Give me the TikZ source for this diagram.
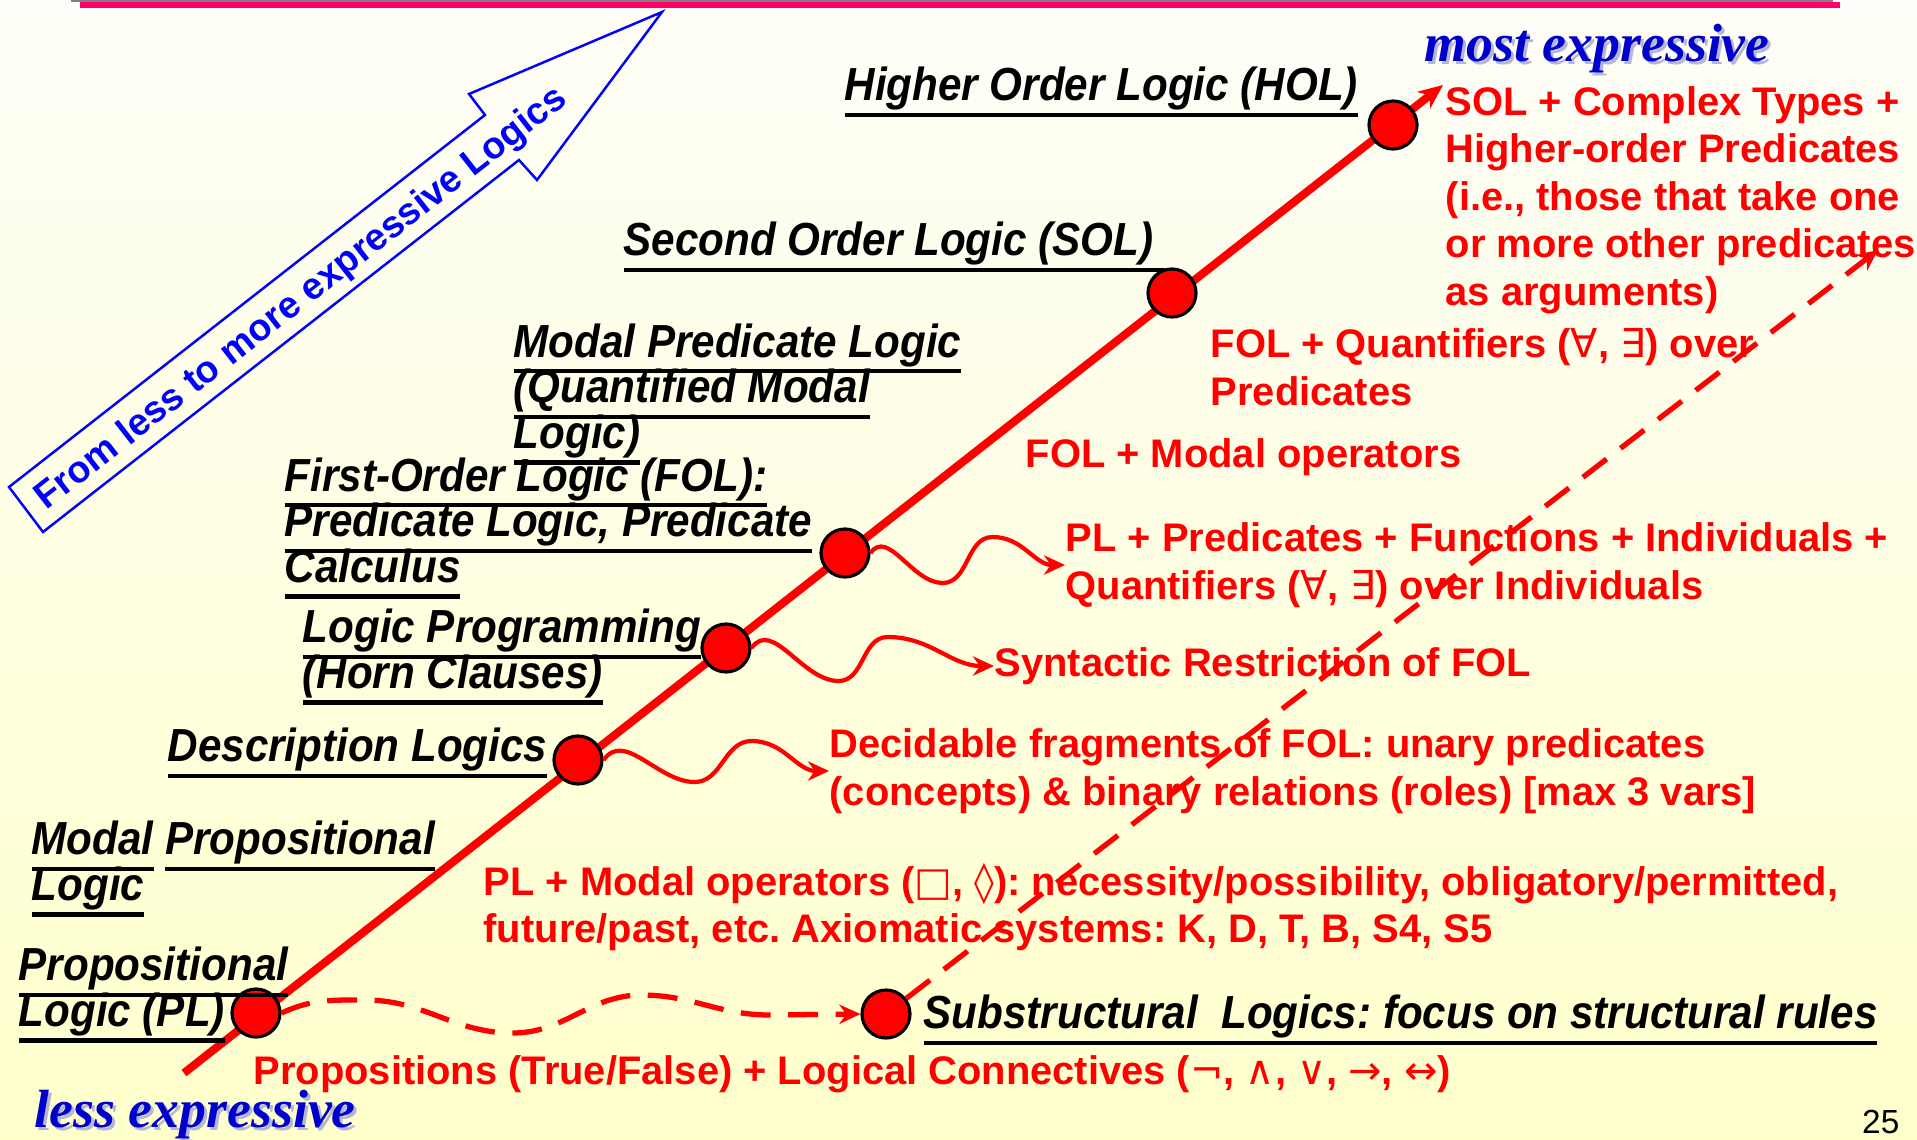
\documentclass[tikz,border=0pt]{standalone}
\usepackage{fontspec}
\setmainfont{Liberation Sans}
\newfontfamily\timesf{Liberation Serif}
\newfontfamily\symf{DejaVu Sans}
\usetikzlibrary{arrows.meta,positioning,calc}
\definecolor{slidered}{HTML}{FF0000}
\definecolor{slideblue}{HTML}{0000FF}
\definecolor{deepblue}{HTML}{0000CC}
\definecolor{topline}{HTML}{FF0066}
\definecolor{bgtop}{HTML}{FEFEF8}
\definecolor{bgbottom}{HTML}{FFFFCC}
\frenchspacing
\newcommand{\lsym}[1]{{\symf\mdseries\upshape #1}}
\newcommand{\ulbox}[1]{\setbox0\hbox{#1}\rlap{\rule[-4.2pt]{\wd0}{1.1pt}}\box0\relax}
\newcommand{\tightlines}{\setlength{\lineskiplimit}{-20pt}}

\tikzset{
  dot/.style={circle,draw=black,fill=slidered,line width=0.9pt,minimum size=0.48cm,inner sep=0pt},
  logic/.style={anchor=west,inner sep=0pt,align=left,yscale=1.1,transform shape,
    font={\fontsize{12}{11.8}\selectfont\tightlines\bfseries\itshape}},
  note/.style={anchor=west,inner sep=0pt,align=left,text=slidered,font=\fontsize{11.35}{13.5}\selectfont\bfseries},
  extreme/.style={anchor=west,inner sep=0pt,text=deepblue,font=\fontsize{15.3}{17}\selectfont\timesf\bfseries\itshape},
  shadowtxt/.style={extreme,text=blue!30!gray!45},
  mainline/.style={slidered,line width=2.3pt,-{Stealth[length=7pt,width=6pt]}},
  dashline/.style={slidered,line width=1.5pt,dash pattern=on 8.5pt off 5pt,-{Stealth[length=6pt,width=5.5pt]}},
  wave/.style={slidered,line width=1.2pt,-{Stealth[length=6pt,width=5.5pt]}}
}

\begin{document}
\begin{tikzpicture}
  % Slide background
  \shade[top color=bgtop,bottom color=bgbottom] (0,0) rectangle (19.17,11.39);
  \useasboundingbox (0,0) rectangle (19.17,11.39);
  \draw[gray,line width=0.6pt] (0.71,11.385) -- (18.33,11.385);
  \fill[topline] (0.80,11.37) rectangle (18.40,11.31);

  % Block arrow: from less to more
  \draw[slideblue,line width=0.7pt] (0.09,6.52) -- (4.85,10.24) -- (4.69,10.45) -- (6.62,11.27)
    -- (5.37,9.59) -- (5.19,9.79) -- (0.43,6.07) -- cycle;
  \node[rotate=38,text=slideblue,font=\fontsize{10.7}{13}\selectfont\bfseries] (dir) at (3.02,8.40)
    {From less to more expressive Logics};

  % Main line of logics
  \coordinate (base) at (1.84,0.66);
  \coordinate (top) at (14.43,10.54);
  \draw[mainline] (base) -- (top);

  \node[dot] (pl) at (2.56,1.26) {};
  \node[dot] (dl) at (5.78,3.79) {};
  \node[dot] (lp) at (7.26,4.91) {};
  \node[dot] (fol) at (8.45,5.86) {};
  \node[dot] (sol) at (11.72,8.46) {};
  \node[dot] (hol) at (13.93,10.14) {};
  \node[dot] (sub) at (8.86,1.25) {};

  % Logic names
  \node[logic] (holtxt) at (8.44,10.47) {\ulbox{Higher Order Logic (HOL)}};
  \node[logic] (soltxt) at (6.23,8.92) {\ulbox{Second Order Logic (SOL)\ }};
  \node[logic] (mpltxt) at (5.13,7.45) {\ulbox{Modal Predicate Logic}\\\ulbox{(Quantified Modal}\\\ulbox{Logic)}};
  \node[logic] (foltxt) at (2.84,6.11) {\ulbox{First-Order Logic (FOL):}\\\ulbox{Predicate Logic, Predicate}\\\ulbox{Calculus}};
  \node[logic] (lptxt) at (3.02,4.82) {\ulbox{Logic Programming}\\\ulbox{(Horn Clauses)}};
  \node[logic] (dltxt) at (1.67,3.86) {\ulbox{Description Logics}};
  \node[logic] (mproptxt) at (0.31,2.70) {\ulbox{Modal} \ulbox{Propositional}\\\ulbox{Logic}};
  \node[logic] (pltxt) at (0.18,1.44) {\ulbox{Propositional}\\\ulbox{Logic (PL)}};
  \node[logic] (subtxt) at (9.23,1.19) {\ulbox{Substructural\ \ Logics: focus on structural rules}};

  % What each logic adds
  \node[note] (holnote) at (14.45,9.39) {SOL + Complex Types +\\Higher-order Predicates\\(i.e., those that take one\\or more other predicates\\as arguments)};
  \node[note] (solnote) at (12.10,7.72) {FOL + Quantifiers (\lsym{∀}, \lsym{∃}) over\\Predicates};
  \node[note] (mplnote) at (10.25,6.82) {FOL + Modal operators};
  \node[note] (folnote) at (10.65,5.74) {PL + Predicates + Functions + Individuals +\\Quantifiers (\lsym{∀}, \lsym{∃}) over Individuals};
  \node[note] (lpnote) at (9.94,4.73) {Syntactic Restriction of FOL};
  \node[note] (dlnote) at (8.29,3.68) {Decidable fragments of FOL: unary predicates\\(concepts) \& binary relations (roles) [max 3 vars]};
  \node[note] (mpropnote) at (4.83,2.32) {PL + Modal operators (\lsym{□}, \lsym{◊}): necessity/possibility, obligatory/permitted,\\future/past, etc. Axiomatic systems: K, D, T, B, S4, S5};
  \node[note] (plnote) at (2.53,0.65) {Propositions (True/False) + Logical Connectives (\lsym{¬}, \lsym{∧}, \lsym{∨}, \lsym{→}, \lsym{↔})};

  % Wavy links to the notes
  \draw[wave] (fol.east) to[out=55,in=180] ++(0.72,-0.30) to[out=0,in=180] ++(0.5,0.46) to[out=0,in=180] (folnote.west);
  \draw[wave] (lp.east) to[out=55,in=180] ++(0.87,-0.33) to[out=0,in=180] ++(0.49,0.44) to[out=0,in=180] (lpnote.west);
  \draw[wave] (dl.east) to[out=55,in=180] ++(0.91,-0.22) to[out=0,in=180] ++(0.57,0.41) to[out=0,in=180] (dlnote.west);

  % Substructural branch
  \coordinate (subtop) at (18.78,8.89);
  \draw[dashline] (pl.east) to[out=25,in=180] ++(0.84,0.13) to[out=0,in=180] ++(1.47,-0.33)
    to[out=0,in=180] ++(1.29,0.38) to[out=0,in=180] ++(1.28,-0.20) -- (sub.west);
  \draw[dashline] (sub) -- (subtop);

  % Ends of the scale
  \node[shadowtxt] at (14.27,10.87) {most expressive};
  \node[extreme] (most) at (14.24,10.90) {most expressive};
  \node[shadowtxt] at (0.37,0.21) {less expressive};
  \node[extreme] (less) at (0.34,0.24) {less expressive};

  \node[anchor=east,inner sep=0pt,font=\fontsize{9.5}{11}\selectfont] (page) at (19.0,0.17) {25};
\end{tikzpicture}
\end{document}
